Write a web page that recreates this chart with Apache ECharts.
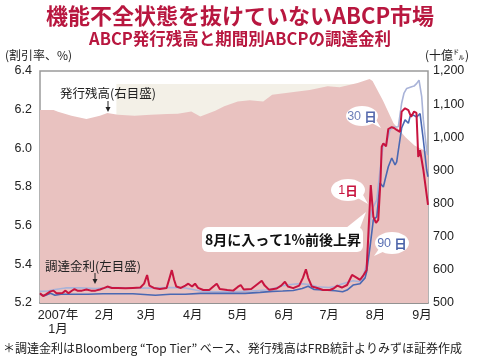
<!DOCTYPE html>
<html><head><meta charset="utf-8">
<script src="https://cdn.jsdelivr.net/npm/echarts@6/dist/echarts.min.js"></script>
<style>html,body{margin:0;padding:0;background:#fff}#c{width:480px;height:358px}</style>
</head><body><div id="c"></div>
<script>
// x positions are day-of-year 2007
const monthDays = [15, 46, 74, 105, 135, 166, 196, 227, 258];
const monthLabels = ['2007年\n1月', '2月', '3月', '4月', '5月', '6月', '7月', '8月', '9月'];

// ABCP outstanding (billion $), right axis
const outstandingDays = [3, 12, 15, 24, 34, 43, 48, 55, 66, 77, 88, 95, 104, 110, 120, 126, 135, 143, 152, 158, 175, 183, 195, 203, 215, 223, 225, 232, 239, 247, 253, 262];
const outstanding = [1082, 1082, 1077, 1065, 1055, 1065, 1073, 1068, 1065, 1068, 1070, 1071, 1078, 1063, 1080, 1094, 1108, 1112, 1108, 1128, 1138, 1143, 1154, 1151, 1164, 1176, 1170, 1110, 1042, 1000, 975, 955];

// 1-day rate (%)
const days1 = [3, 5, 7, 10, 12, 14, 16, 18, 20, 22, 24, 26, 28, 31, 34, 37, 40, 43, 46, 48, 51, 55, 60, 65, 70, 72.5, 74.5, 76, 79, 83, 87.5, 89.5, 91, 92.5, 94, 97, 100, 102, 104.5, 106.5, 108.5, 112, 116, 119.5, 121, 123, 128, 132, 135, 137, 139, 144, 148.5, 151, 153, 156, 161, 164, 166.5, 168.5, 172, 176, 178.5, 180.5, 182, 184.5, 188, 192, 196.5, 199, 201.5, 204.5, 208, 211.3, 214.6, 216.6, 218.6, 221, 222, 223.8, 225.5, 227.3, 228.8, 230.3, 231.1, 232.2, 234, 235.5, 237.8, 239.3, 241.1, 243.3, 244.4, 246.7, 248.9, 250.7, 252.7, 254.3, 255.5, 256.7, 258.9, 262];
const rate1 = [5.25, 5.236, 5.245, 5.26, 5.264, 5.25, 5.25, 5.252, 5.264, 5.25, 5.262, 5.272, 5.264, 5.264, 5.27, 5.264, 5.264, 5.27, 5.278, 5.285, 5.278, 5.278, 5.276, 5.278, 5.28, 5.30, 5.345, 5.29, 5.278, 5.272, 5.278, 5.33, 5.37, 5.32, 5.285, 5.278, 5.29, 5.30, 5.285, 5.30, 5.278, 5.267, 5.267, 5.29, 5.30, 5.272, 5.267, 5.264, 5.283, 5.293, 5.27, 5.272, 5.30, 5.315, 5.29, 5.268, 5.275, 5.29, 5.31, 5.285, 5.277, 5.29, 5.33, 5.374, 5.33, 5.285, 5.278, 5.267, 5.267, 5.275, 5.29, 5.28, 5.293, 5.345, 5.33, 5.32, 5.34, 5.37, 5.525, 5.81, 5.646, 5.614, 5.63, 5.836, 6.008, 6.026, 6.01, 6.10, 6.11, 6.105, 6.095, 6.085, 6.19, 6.207, 6.198, 6.163, 6.19, 6.183, 5.955, 5.99, 5.888, 5.707];

// 30-day rate (%)
const days30 = [3, 8, 13, 20, 30, 40, 50, 60, 70, 80, 90, 100, 110, 120, 132, 144, 154, 160, 165, 172, 177, 183, 188, 196, 200, 205, 212, 216.6, 218.5, 221, 222, 224.4, 227.8, 230, 232.2, 234, 236.6, 239.3, 242.2, 244.4, 246, 247.8, 251.1, 252.7, 254.5, 256, 257.8, 258.9, 260, 261.1, 262];
const rate30 = [5.26, 5.262, 5.27, 5.278, 5.278, 5.275, 5.28, 5.278, 5.277, 5.278, 5.28, 5.278, 5.262, 5.258, 5.258, 5.262, 5.267, 5.278, 5.29, 5.297, 5.30, 5.295, 5.284, 5.28, 5.285, 5.30, 5.315, 5.31, 5.33, 5.40, 5.51, 5.68, 5.733, 5.888, 6.026, 6.017, 6.095, 6.11, 6.112, 6.233, 6.286, 6.31, 6.319, 6.322, 6.336, 6.353, 6.267, 6.147, 6.069, 5.99, 5.965];

// 90-day rate (%)
const days90 = [3, 6, 10, 13, 17, 25, 35, 45, 55, 65, 80, 90, 100, 110, 120, 130, 140, 150, 158, 165, 172, 178, 182, 186, 192, 200, 205, 208, 212, 216.6, 220, 221, 223.3, 225.5, 227.8, 230, 232.2, 233.3, 235.5, 237.8, 240, 241.1, 242.2, 243.3, 244.4, 246.7, 248.9, 250, 252.2, 254.5, 256.7, 258.9, 261.1, 262];
const rate90 = [5.245, 5.237, 5.25, 5.24, 5.245, 5.245, 5.245, 5.248, 5.248, 5.248, 5.24, 5.245, 5.245, 5.25, 5.25, 5.25, 5.25, 5.255, 5.26, 5.262, 5.265, 5.275, 5.287, 5.27, 5.267, 5.263, 5.258, 5.267, 5.293, 5.30, 5.33, 5.36, 5.49, 5.63, 5.646, 5.82, 5.80, 5.836, 5.905, 5.95, 5.914, 5.93, 5.99, 6.0, 6.105, 6.147, 6.13, 6.164, 6.172, 6.162, 6.18, 6.043, 5.888, 5.853];

// highlighted background band (day range, top value on right axis)
const bandDays = [54, 224.6];
const bandTop = 1161;

const pairs = (d, v) => d.map((x, i) => [x, v[i]]);
const FONT = "'Liberation Sans', 'Noto Sans CJK JP', sans-serif";
const JP = "'Noto Sans CJK JP', sans-serif";
const RED = '#c8143f';
const LBLUE = '#a9b3d8';
const BLUE = '#4a68b2';

const chart = echarts.init(document.getElementById('c'));
chart.setOption({
  animation: false,
  title: [
    { text: '機能不全状態を抜けていないABCP市場', left: 'center', top: 0,
      textStyle: { fontFamily: JP, fontSize: 22, fontWeight: 'bold', color: '#b8173f' } },
    { text: 'ABCP発行残高と期間別ABCPの調達金利', left: 'center', top: 25,
      textStyle: { fontFamily: JP, fontSize: 16.5, fontWeight: 'bold', color: '#b8173f' } }
  ],
  grid: { left: 40, right: 52, top: 71, bottom: 55, show: true, borderColor: '#9a9a9a', borderWidth: 1.5, backgroundColor: 'transparent' },
  xAxis: {
    type: 'value', min: 3, max: 262,
    axisLine: { show: true, lineStyle: { color: '#888', width: 1.5 } },
    axisTick: { show: false },
    splitLine: { show: false },
    axisLabel: {
      customValues: monthDays,
      formatter: v => monthLabels[monthDays.indexOf(v)],
      fontFamily: FONT, fontSize: 12.5, color: '#222', margin: 6, lineHeight: 14
    }
  },
  yAxis: [
    { type: 'value', min: 5.2, max: 6.4, interval: 0.2, position: 'left',
      axisLine: { show: false }, axisTick: { show: false }, splitLine: { show: false },
      axisLabel: { formatter: v => v.toFixed(1), fontFamily: FONT, fontSize: 12.5, color: '#222', margin: 8 } },
    { type: 'value', min: 500, max: 1200, interval: 100, position: 'right',
      axisLine: { show: false }, axisTick: { show: false }, splitLine: { show: false },
      axisLabel: { formatter: v => v.toLocaleString('en-US'), fontFamily: FONT, fontSize: 12.5, color: '#222', margin: 5 } }
  ],
  series: [
    { type: 'line', name: 'band', yAxisIndex: 1, data: [], z: 0, silent: true,
      markArea: { silent: true, itemStyle: { color: '#f3f0e7' },
        data: [[{ coord: [bandDays[0], bandTop] }, { coord: [bandDays[1], 500] }]] } },
    { type: 'line', name: '発行残高', yAxisIndex: 1, data: pairs(outstandingDays, outstanding),
      showSymbol: false, symbol: 'none', lineStyle: { width: 0 }, z: 1,
      areaStyle: { color: '#e9c2c0', opacity: 1 } },
    { type: 'line', name: '30日', yAxisIndex: 0, data: pairs(days30, rate30), symbol: 'none', z: 3,
      lineStyle: { color: LBLUE, width: 1.6 } },
    { type: 'line', name: '90日', yAxisIndex: 0, data: pairs(days90, rate90), symbol: 'none', z: 4,
      lineStyle: { color: BLUE, width: 1.6 } },
    { type: 'line', name: '1日', yAxisIndex: 0, data: pairs(days1, rate1), symbol: 'none', z: 5,
      lineStyle: { color: RED, width: 2 } }
  ],
  graphic: [
    { type: 'text', left: 5, top: 49, style: { text: '(割引率、%)', font: '12px ' + JP, fill: '#222' } },
    { type: 'text', left: 425, top: 49, style: { text: '(十億㌦)', font: '12px ' + JP, fill: '#222' } },
    { type: 'text', x: 60, y: 93, style: { text: '発行残高(右目盛)', font: '12.5px ' + JP, fill: '#222', textVerticalAlign: 'middle' }, z: 10 },
    { type: 'line', shape: { x1: 108, y1: 101, x2: 108, y2: 108 }, style: { stroke: '#222', lineWidth: 1 }, z: 10 },
    { type: 'polygon', shape: { points: [[105.5, 107], [110.5, 107], [108, 112]] }, style: { fill: '#222' }, z: 10 },
    { type: 'text', x: 45, y: 266, style: { text: '調達金利(左目盛)', font: '12.5px ' + JP, fill: '#222', textVerticalAlign: 'middle' }, z: 10 },
    { type: 'line', shape: { x1: 95, y1: 273, x2: 95, y2: 280 }, style: { stroke: '#222', lineWidth: 1 }, z: 10 },
    { type: 'polygon', shape: { points: [[92.5, 279], [97.5, 279], [95, 284]] }, style: { fill: '#222' }, z: 10 },
    // callout box
    { type: 'polygon', shape: { points: [[346, 228], [360, 228], [366, 212]] }, style: { fill: '#fff' }, z: 20 },
    { type: 'rect', shape: { x: 202, y: 227, width: 161, height: 25, r: 6 }, style: { fill: '#fff' }, z: 20 },
    { type: 'text', x: 283, y: 240, style: { text: '8月に入って1%前後上昇', font: 'bold 14px ' + JP, fill: '#111', textAlign: 'center', textVerticalAlign: 'middle' }, z: 21 },
    // 30日 bubble
    { type: 'polygon', shape: { points: [[368, 121], [375, 118], [381, 128]] }, style: { fill: '#fff' }, z: 20 },
    { type: 'ellipse', shape: { cx: 362, cy: 116, rx: 16, ry: 10 }, style: { fill: '#fff' }, z: 20 },
    { type: 'text', x: 362, y: 117, style: { text: '{a|30} {b|日}', textAlign: 'center', textVerticalAlign: 'middle',
      rich: { a: { font: '12.5px ' + FONT, fill: '#6d7fb8' }, b: { font: 'bold 12.5px ' + JP, fill: '#5569ad' } } }, z: 21 },
    // 1日 bubble
    { type: 'polygon', shape: { points: [[356, 197], [362, 193], [368, 204]] }, style: { fill: '#fff' }, z: 20 },
    { type: 'ellipse', shape: { cx: 348, cy: 190, rx: 17, ry: 11 }, style: { fill: '#fff' }, z: 20 },
    { type: 'text', x: 348, y: 191, style: { text: '{a|1}{b|日}', textAlign: 'center', textVerticalAlign: 'middle',
      rich: { a: { font: '12.5px ' + FONT, fill: RED }, b: { font: 'bold 12.5px ' + JP, fill: RED } } }, z: 21 },
    // 90日 bubble
    { type: 'polygon', shape: { points: [[381, 246], [387, 250], [374, 256]] }, style: { fill: '#fff' }, z: 20 },
    { type: 'ellipse', shape: { cx: 392, cy: 243, rx: 17, ry: 11 }, style: { fill: '#fff' }, z: 20 },
    { type: 'text', x: 392, y: 244, style: { text: '{a|90} {b|日}', textAlign: 'center', textVerticalAlign: 'middle',
      rich: { a: { font: '12.5px ' + FONT, fill: '#5a70b4' }, b: { font: 'bold 12.5px ' + JP, fill: '#4a62a8' } } }, z: 21 },
    // footnote
    { type: 'text', left: 3, top: 342, style: { text: '＊調達金利はBloomberg “Top Tier” ベース、発行残高はFRB統計よりみずほ証券作成', font: '12px ' + JP, fill: '#222' } }
  ]
});
</script></body></html>
